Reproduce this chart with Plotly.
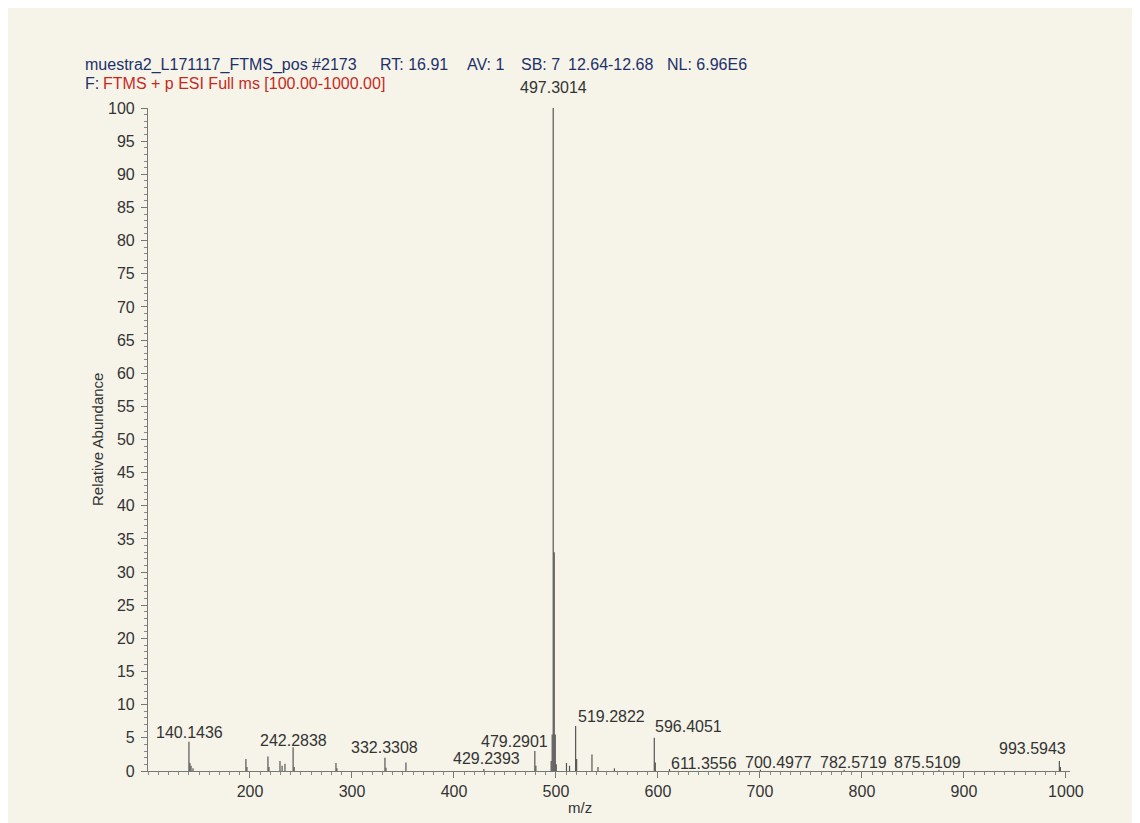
import plotly.graph_objects as go

# ---------------- data ----------------
peak_mz = [140.14, 141.10, 142.20, 144.10, 196.00, 197.00, 217.60, 218.60, 229.40, 231.50,
           234.30, 242.28, 243.30, 284.30, 285.20, 332.33, 333.30, 352.90, 429.24, 479.29,
           480.30, 495.30, 496.30, 497.30, 498.30, 499.31, 500.30, 510.30, 513.30, 519.28,
           520.29, 535.30, 541.20, 557.30, 596.41, 597.41, 611.36, 700.50, 782.57, 875.51,
           993.59, 994.60]
peak_int = [4.4, 1.2, 0.8, 0.4, 1.8, 0.6, 2.2, 0.6, 1.5, 0.8,
            1.1, 3.6, 0.6, 1.2, 0.4, 2.0, 0.5, 1.3, 0.3, 3.0,
            0.8, 1.5, 5.5, 100.0, 33.0, 5.5, 1.0, 1.2, 0.8, 6.8,
            1.8, 2.5, 0.6, 0.4, 5.0, 1.3, 0.3, 0.2, 0.2, 0.2,
            1.5, 0.6]

label_mz = [497.3014, 140.1436, 242.2838, 332.3308, 429.2393, 479.2901, 519.2822,
            596.4051, 611.3556, 700.4977, 782.5719, 875.5109, 993.5943]
label_int = [100.0, 4.4, 3.6, 2.0, 0.3, 3.0, 6.8, 5.0, 0.3, 0.2, 0.2, 0.2, 1.5]

y_ticks = list(range(0, 101, 5))
x_ticks = [200, 300, 400, 500, 600, 700, 800, 900, 1000]

header_line1 = ["muestra2_L171117_FTMS_pos #2173", "RT: 16.91", "AV: 1", "SB: 7",
                "12.64-12.68", "NL: 6.96E6"]
header_line2 = ["F:", "FTMS + p ESI Full ms [100.00-1000.00]"]

# ---------------- style / layout ----------------
W, H = 1140, 823
OFF = 8  # page body margin
# plot area in screen pixels: x 148..1070, y 108..771
L = 148 - OFF
T = 108 - OFF
R = W - (1070 - OFF)
B = H - (771 - OFF)
PAPER = "#f6f4e9"
INK = "#333333"
NAVY = "#22306a"
RED = "#c8281e"
FONT = "Liberation Sans, Arial, sans-serif"

# pixel offsets of labels relative to the peak top (style)
label_dx = [0, 1, 0, 0, 3, -20, 36, 34, 34, 18, 9, -11, -27]
label_dy = [21, 9, 7, 10, 11, 10, 9, 11, 6, 7, 7, 7, 13]
# screen x of header segments (style)
header1_px = [83, 378, 465, 519, 566, 665]
header2_px = [83, 101]
header2_col = [NAVY, RED]

def sx(px):
    return (px - OFF - L) / (W - L - R)

def sy(py):
    return (H - B - (py - OFF)) / (H - T - B)

xs, ys = [], []
for m, h in zip(peak_mz, peak_int):
    xs += [m, m, None]
    ys += [0, h, None]

fig = go.Figure()
fig.add_trace(go.Scatter(x=xs, y=ys, mode="lines",
                         line=dict(color="#555555", width=1.2),
                         hoverinfo="skip", showlegend=False, cliponaxis=False))

annotations = []
for m, h, dx, dy in zip(label_mz, label_int, label_dx, label_dy):
    annotations.append(dict(x=m, y=h, xref="x", yref="y", text=f"{m:.4f}",
                            showarrow=False, xanchor="center", yanchor="middle",
                            xshift=dx, yshift=dy,
                            font=dict(family=FONT, size=16, color=INK)))

for txt, px in zip(header_line1, header1_px):
    annotations.append(dict(x=sx(px), y=sy(64.5), xref="paper", yref="paper",
                            text=txt, showarrow=False, xanchor="left", yanchor="middle",
                            font=dict(family=FONT, size=16, color=NAVY)))
for txt, px, col in zip(header_line2, header2_px, header2_col):
    annotations.append(dict(x=sx(px), y=sy(83.3), xref="paper", yref="paper",
                            text=txt, showarrow=False, xanchor="left", yanchor="middle",
                            font=dict(family=FONT, size=16, color=col)))

annotations.append(dict(x=sx(580), y=sy(807), xref="paper", yref="paper",
                        text="m/z", showarrow=False, xanchor="center", yanchor="middle",
                        font=dict(family=FONT, size=15, color=INK)))
annotations.append(dict(x=sx(97), y=sy(440), xref="paper", yref="paper",
                        text="Relative Abundance", showarrow=False, textangle=-90,
                        xanchor="center", yanchor="middle",
                        font=dict(family=FONT, size=15, color=INK)))

fig.update_layout(
    width=W, height=H,
    margin=dict(l=L, r=R, t=T, b=B, pad=0),
    paper_bgcolor=PAPER, plot_bgcolor=PAPER,
    annotations=annotations,
    showlegend=False,
    font=dict(family=FONT, size=16, color=INK),
)
fig.update_xaxes(range=[100, 1004], showgrid=False, zeroline=False,
                 showline=True, linecolor="#777", linewidth=1.2,
                 tickmode="array", tickvals=x_ticks, ticks="outside", ticklen=6,
                 tickcolor="#777", tickfont=dict(family=FONT, size=16, color=INK),
                 minor=dict(dtick=10, tick0=0, ticks="outside", ticklen=3, tickcolor="#888"))
fig.update_yaxes(range=[0, 100], showgrid=False, zeroline=False,
                 showline=True, linecolor="#777", linewidth=1.2,
                 tickmode="array", tickvals=y_ticks, ticks="outside", ticklen=6,
                 tickcolor="#777", tickfont=dict(family=FONT, size=16, color=INK),
                 ticklabelstandoff=3,
                 minor=dict(dtick=1, tick0=0, ticks="outside", ticklen=3, tickcolor="#888"))

fig.write_html("out.html")
